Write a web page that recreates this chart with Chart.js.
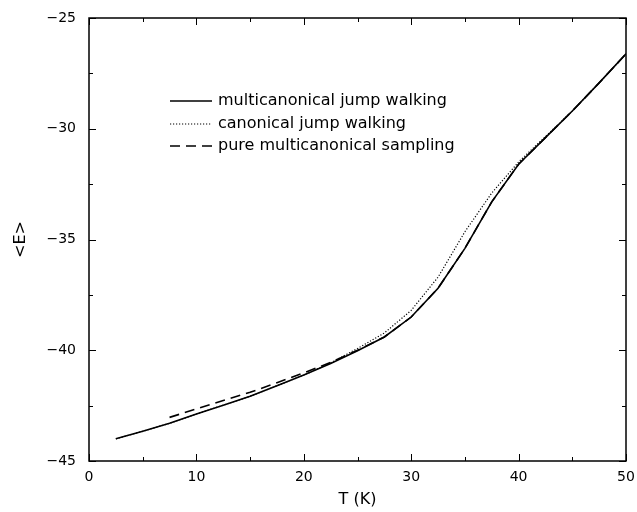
<!DOCTYPE html>
<html>
<head>
<meta charset="utf-8">
<script src="https://cdn.jsdelivr.net/npm/chart.js@4"></script>
<style>
  html, body { margin: 0; padding: 0; background: #fff; }
  #wrap { width: 637px; height: 512px; position: relative; }
</style>
</head>
<body>
<div id="wrap"><canvas id="myChart"></canvas></div>
<script>
// temperatures (K) sampled every 2.5
const temps = [2.5, 5, 7.5, 10, 12.5, 15, 17.5, 20, 22.5, 25, 27.5, 30, 32.5, 35, 37.5, 40, 42.5, 45, 47.5, 50];

const multicanJump = [-44.0, -43.66, -43.3, -42.88, -42.48, -42.08, -41.6, -41.12, -40.6, -40.02,
  -39.4, -38.5, -37.2, -35.4, -33.3, -31.6, -30.4, -29.2, -27.93, -26.62];
const canonJump = [-44.0, -43.66, -43.3, -42.88, -42.48, -42.08, -41.6, -41.12, -40.57, -39.92,
  -39.22, -38.2, -36.7, -34.65, -32.9, -31.5, -30.35, -29.2, -27.93, -26.62];
const pureMultican = [null, null, -43.03, -42.65, -42.27, -41.9, -41.47, -41.02, -40.55, -40.0,
  -39.4, -38.5, -37.2, -35.4, -33.3, -31.6, -30.4, -29.2, -27.93, -26.62];

const seriesNames = ['multicanonical jump walking', 'canonical jump walking', 'pure multicanonical sampling'];

const xTicks = [0, 10, 20, 30, 40, 50];
const yTicks = [-45, -40, -35, -30, -25];

const FONT = 'DejaVu Sans, sans-serif';

function toPoints(vals) {
  return temps.map((t, i) => ({ x: t, y: vals[i] }));
}

// frame + inward ticks on all four sides, gnuplot style
const frameTicks = {
  id: 'frameTicks',
  afterDraw(chart) {
    const { ctx, chartArea: a, scales: { x, y } } = chart;
    ctx.save();
    ctx.strokeStyle = '#000';
    ctx.lineWidth = 1.5;
    ctx.strokeRect(a.left, a.top, a.right - a.left, a.bottom - a.top);
    ctx.lineWidth = 1;
    ctx.beginPath();
    for (let v = 0; v <= 50; v += 5) {
      const px = Math.round(x.getPixelForValue(v)) + 0.5;
      const len = v % 10 === 0 ? 7 : 4;
      ctx.moveTo(px, a.bottom); ctx.lineTo(px, a.bottom - len);
      ctx.moveTo(px, a.top); ctx.lineTo(px, a.top + len);
    }
    for (let v = -45; v <= -25; v += 2.5) {
      const py = Math.round(y.getPixelForValue(v)) + 0.5;
      const len = v % 5 === 0 ? 7 : 4;
      ctx.moveTo(a.left, py); ctx.lineTo(a.left + len, py);
      ctx.moveTo(a.right, py); ctx.lineTo(a.right - len, py);
    }
    ctx.stroke();

    // legend
    const rows = [101, 124, 146];
    ctx.font = '16px ' + FONT;
    ctx.fillStyle = '#000';
    ctx.textBaseline = 'middle';
    chart.data.datasets.forEach((ds, i) => {
      ctx.beginPath();
      ctx.lineWidth = ds.borderWidth;
      ctx.setLineDash(ds.borderDash || []);
      ctx.moveTo(170, rows[i]);
      ctx.lineTo(212, rows[i]);
      ctx.stroke();
      ctx.setLineDash([]);
      ctx.fillText(ds.label, 218, rows[i]);
    });
    ctx.restore();
  }
};

new Chart(document.getElementById('myChart'), {
  type: 'line',
  data: {
    datasets: [
      { label: seriesNames[0], data: toPoints(multicanJump), borderColor: '#000', borderWidth: 1.6, pointRadius: 0, tension: 0 },
      { label: seriesNames[1], data: toPoints(canonJump), borderColor: '#000', borderWidth: 1.2, borderDash: [1.2, 1.8], pointRadius: 0, tension: 0 },
      { label: seriesNames[2], data: toPoints(pureMultican), borderColor: '#000', borderWidth: 1.6, borderDash: [10, 6], pointRadius: 0, tension: 0 }
    ]
  },
  options: {
    responsive: true,
    maintainAspectRatio: false,
    animation: false,
    layout: { padding: { top: 18, right: 11, left: 0, bottom: 0 } },
    plugins: { legend: { display: false }, tooltip: { enabled: false } },
    scales: {
      x: {
        type: 'linear',
        min: 0, max: 50,
        afterBuildTicks: (s) => { s.ticks = xTicks.map(v => ({ value: v })); },
        afterFit: (s) => { s.height = 51; s.paddingLeft = 0; s.paddingRight = 0; },
        grid: { display: false, drawTicks: false },
        border: { display: false },
        ticks: { color: '#000', padding: 8, maxRotation: 0, font: { family: FONT, size: 14 } },
        title: { display: true, text: 'T (K)', color: '#000', padding: { top: 0, bottom: 3 }, font: { family: FONT, size: 16 } }
      },
      y: {
        type: 'linear',
        min: -45, max: -25,
        afterBuildTicks: (s) => { s.ticks = yTicks.map(v => ({ value: v })); },
        afterFit: (s) => { s.width = 89; s.paddingTop = 0; s.paddingBottom = 0; },
        grid: { display: false, drawTicks: false },
        border: { display: false },
        ticks: { color: '#000', padding: 13, font: { family: FONT, size: 14 },
          callback: (v) => String(v).replace('-', '\u2212') },
        title: { display: true, text: '<E>', color: '#000', padding: { top: 11, bottom: 0 }, font: { family: FONT, size: 16 } }
      }
    }
  },
  plugins: [frameTicks]
});
</script>
</body>
</html>
